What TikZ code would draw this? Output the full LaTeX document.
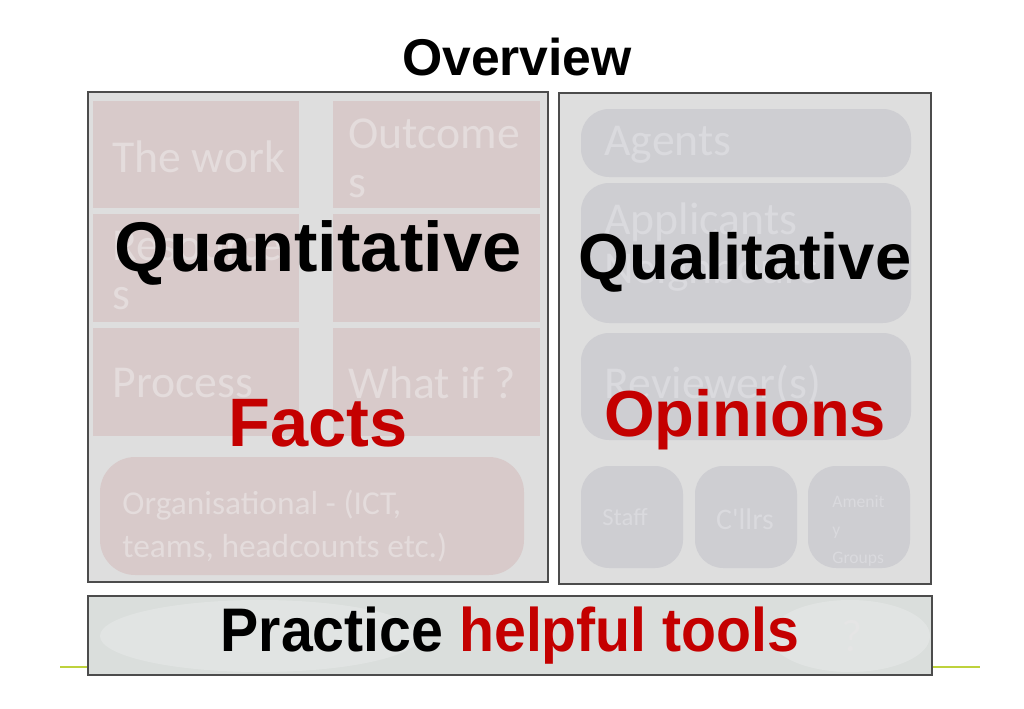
\documentclass[tikz,border=0pt]{standalone}
\usepackage{fontspec}
\setmainfont{Liberation Sans}
\newfontfamily\fadefont{Carlito}
\definecolor{panelgray}{RGB}{222,222,222}
\definecolor{pinkbox}{RGB}{216,202,202}
\definecolor{graybox}{RGB}{206,206,210}
\definecolor{fadetext}{RGB}{228,220,220}
\definecolor{fadegray}{RGB}{218,218,222}
\definecolor{barfill}{RGB}{218,222,220}
\definecolor{hired}{RGB}{196,0,0}
\definecolor{linegreen}{RGB}{190,210,60}
\begin{document}
\begin{tikzpicture}[x=0.01cm, y=-0.01cm,
  panel/.style = {draw=black!70, fill=panelgray, line width=0.6pt},
  qbox/.style = {fill=pinkbox},
  rbox/.style = {fill=graybox, rounded corners=8pt},
  faded/.style = {text=fadetext, font=\fadefont\fontsize{13pt}{14pt}\selectfont, align=left},
  big/.style = {font=\bfseries\fontsize{20pt}{22pt}\selectfont}]
  \useasboundingbox (0,0) rectangle (1024,709);
  \fill[white] (0,0) rectangle (1024,709);
  \node[font=\bfseries\fontsize{14.7pt}{16pt}\selectfont] (title) at (517,57) {Overview};
  \draw[linegreen, line width=0.6pt] (60,667) -- (980,667);
  % left panel
  \draw[panel] (88,92) rectangle (548,582);
  \fill[qbox] (93,101) rectangle (299,208);
  \fill[qbox] (333,101) rectangle (540,208);
  \fill[qbox] (93,214) rectangle (299,322);
  \fill[qbox] (333,214) rectangle (540,322);
  \fill[qbox] (93,328) rectangle (299,436);
  \fill[qbox] (333,328) rectangle (540,436);
  \fill[qbox, rounded corners=10pt] (100,457) rectangle (524,575);
  \node[faded, anchor=west] (work) at (100,157) {The work};
  \node[faded, anchor=north west] (outc) at (336,106) {Outcome\\s};
  \node[faded, anchor=north west] (reso) at (100,219) {Resource\\s};
  \node[faded, anchor=west] (proc) at (100,383) {Process};
  \node[faded, anchor=west] (what) at (336,383) {What if ?};
  \node[faded, anchor=north west, font=\fadefont\fontsize{9.5pt}{12pt}\selectfont] (org) at (110,478) {Organisational - (ICT,\\teams, headcounts etc.)};
  % right panel
  \draw[panel] (559,93) rectangle (931,584);
  \fill[rbox] (581,109) rectangle (911,177);
  \fill[rbox] (581,183) rectangle (911,323);
  \fill[rbox] (581,333) rectangle (911,440);
  \fill[rbox] (581,466) rectangle (683,568);
  \fill[rbox] (695,466) rectangle (797,568);
  \fill[rbox] (808,466) rectangle (910,568);
  \node[faded, text=fadegray, anchor=west] (agent) at (592,145) {Agents};
  \node[faded, text=fadegray, anchor=north west] (appl) at (592,190) {Applicants\\Neighbours};
  \node[faded, text=fadegray, anchor=west] (revw) at (592,385) {Reviewer(s)};
  \node[faded, text=fadegray, font=\fadefont\fontsize{7pt}{8pt}\selectfont] (staff) at (625,517) {Staff};
  \node[faded, text=fadegray, font=\fadefont\fontsize{8.5pt}{9pt}\selectfont] (cllr) at (745,519) {C'llrs};
  \node[faded, text=fadegray, font=\fadefont\fontsize{5pt}{8pt}\selectfont, anchor=north west] (amen) at (820,483) {Amenit\\y\\Groups};
  % bottom bar
  \draw[panel, fill=barfill] (88,596) rectangle (932,675);
  \fill[white, opacity=0.2] (260,636) ellipse (160 and 36);
  \fill[white, opacity=0.2] (850,636) ellipse (80 and 36);
  \node[text=white!80!gray, font=\fadefont\fontsize{13pt}{14pt}\selectfont] (qm) at (852,636) {?};
  % headings
  \node[big] (quant) at (318,253) {Quantitative};
  \node[big, font=\bfseries\fontsize{18.5pt}{20pt}\selectfont] (qual) at (745,262) {Qualitative};
  \node[big, text=hired, font=\bfseries\fontsize{19.5pt}{20pt}\selectfont] (facts) at (318,423) {Facts};
  \node[big, text=hired, font=\bfseries\fontsize{18.5pt}{20pt}\selectfont] (opin) at (745,420) {Opinions};
  \node[xscale=0.93, font=\bfseries\fontsize{17.5pt}{20pt}\selectfont] (tools) at (510,636) {Practice \textcolor{hired}{helpful tools}};
\end{tikzpicture}
\end{document}
